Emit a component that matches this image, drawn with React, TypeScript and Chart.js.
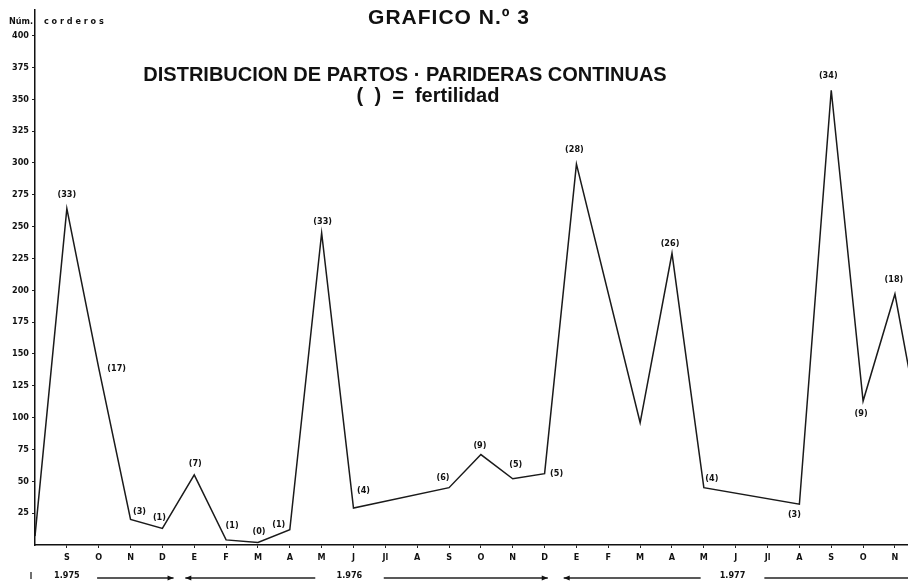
import React, { useEffect, useRef } from 'react';
import { Chart, registerables } from 'chart.js';

Chart.register(...registerables);

// Months from Aug 1975 to Dec 1977
const monthLabels = ['A', 'S', 'O', 'N', 'D', 'E', 'F', 'M', 'A', 'M', 'J', 'Jl', 'A', 'S', 'O', 'N', 'D', 'E', 'F', 'M', 'A', 'M', 'J', 'Jl', 'A', 'S', 'O', 'N', 'D'];
// Núm. corderos (lambs born) per month; null = no vertex drawn (line spans across)
const corderos: (number | null)[] = [7, 264, 139, 20, 13, 55, 4, 2, 12, 245, 29, null, null, 45, 71, 52, 56, 299, null, 96, 229, 45, null, null, 32, 357, 113, 197, 62];
// Fertility annotations "( ) = fertilidad"
const fertilidad: (string | null)[] = [null, '(33)', '(17)', '(3)', '(1)', '(7)', '(1)', '(0)', '(1)', '(33)', '(4)', null, null, '(6)', '(9)', '(5)', '(5)', '(28)', null, null, '(26)', '(4)', null, null, '(3)', '(34)', '(9)', '(18)', null];
const yTickValues = [25, 50, 75, 100, 125, 150, 175, 200, 225, 250, 275, 300, 325, 350, 375, 400];
const xTickIndexes = [1, 2, 3, 4, 5, 6, 7, 8, 9, 10, 11, 12, 13, 14, 15, 16, 17, 18, 19, 20, 21, 22, 23, 24, 25, 26, 27];
const yearLabels = ['1.975', '1.976', '1.977'];

// styling: label offsets (px) from each vertex
const labelOffsets: [number, number][] = [
  [0, 0], [0, -14], [18, 1], [9, -8], [-3, -11], [1, -11], [6, -14], [1, -11], [-11, -5], [1, -11],
  [10, -17], [0, 0], [0, 0], [-6, -10], [-1, -9], [3, -14], [12, 0], [-2, -14], [0, 0], [0, 0],
  [-2, -10], [8, -9], [0, 0], [0, 0], [-5, 10], [-3, -15], [-2, 13], [-1, -14], [0, 0],
];

const SMALL_FONT = 'bold 9px "DejaVu Sans Condensed", "DejaVu Sans", sans-serif';

const overlayPlugin = {
  id: 'overlay',
  afterDraw(chart: any) {
    const ctx = chart.ctx as CanvasRenderingContext2D;
    const xs = chart.scales.x;
    const ys = chart.scales.y;
    ctx.save();
    // fertility labels
    ctx.font = SMALL_FONT;
    ctx.fillStyle = '#111';
    ctx.textAlign = 'center';
    ctx.textBaseline = 'middle';
    fertilidad.forEach((t, i) => {
      const v = corderos[i];
      if (!t || v === null) return;
      const [dx, dy] = labelOffsets[i];
      ctx.fillText(t, xs.getPixelForValue(i) + dx, ys.getPixelForValue(v) + dy);
    });

    // axis title
    ctx.textAlign = 'left';
    ctx.fillText('Núm.', 9, 22);
    ctx.fillText('c o r d e r o s', 44, 22);

    // titles
    ctx.fillStyle = '#111';
    ctx.textAlign = 'center';
    ctx.font = 'bold 21px "Liberation Sans", Arial, sans-serif';
    (ctx as any).letterSpacing = '1px';
    ctx.fillText('GRAFICO N.º 3', 449, 18);
    (ctx as any).letterSpacing = '0px';
    ctx.font = 'bold 20px "Liberation Sans", Arial, sans-serif';
    ctx.fillText('DISTRIBUCION DE PARTOS · PARIDERAS CONTINUAS', 405, 75);
    ctx.fillText('(  )  =  fertilidad', 428, 96);

    // year row with arrows
    const yRow = 578;
    const px = (v: number) => xs.getPixelForValue(v);
    ctx.font = SMALL_FONT;
    ctx.textAlign = 'center';
    ctx.fillText(yearLabels[0], px(1), yRow - 2);
    ctx.fillText(yearLabels[1], px(9.87), yRow - 2);
    ctx.fillText(yearLabels[2], px(21.9), yRow - 2);
    ctx.strokeStyle = '#222';
    ctx.lineWidth = 1.3;
    const seg = (a: number, b: number) => {
      ctx.beginPath();
      ctx.moveTo(a, yRow);
      ctx.lineTo(b, yRow);
      ctx.stroke();
    };
    const arrowR = (x: number) => {
      ctx.beginPath();
      ctx.moveTo(x, yRow);
      ctx.lineTo(x - 6, yRow - 2.5);
      ctx.lineTo(x - 6, yRow + 2.5);
      ctx.closePath();
      ctx.fillStyle = '#111';
      ctx.fill();
    };
    const arrowL = (x: number) => {
      ctx.beginPath();
      ctx.moveTo(x, yRow);
      ctx.lineTo(x + 6, yRow - 2.5);
      ctx.lineTo(x + 6, yRow + 2.5);
      ctx.closePath();
      ctx.fillStyle = '#111';
      ctx.fill();
    };
    // small start mark
    ctx.beginPath();
    ctx.moveTo(31, yRow - 6);
    ctx.lineTo(31, yRow + 1);
    ctx.stroke();
    seg(px(1.95), px(4.35));
    arrowR(px(4.35));
    seg(px(4.72), px(8.8));
    arrowL(px(4.72));
    seg(px(10.95), px(16.1));
    arrowR(px(16.1));
    seg(px(16.6), px(20.9));
    arrowL(px(16.6));
    seg(px(22.9), 908);
    ctx.restore();
  },
};

export default function App() {
  const canvasRef = useRef<HTMLCanvasElement | null>(null);

  useEffect(() => {
    if (!canvasRef.current) return;
    const chart = new Chart(canvasRef.current, {
      type: 'line',
      data: {
        datasets: [
          {
            data: corderos.map((v, i) => ({ x: i, y: v })),
            borderColor: '#1a1a1a',
            borderWidth: 1.5,
            pointRadius: 0,
            tension: 0,
            spanGaps: true,
            fill: false,
          },
        ],
      },
      options: {
        responsive: false,
        animation: false,
        layout: { padding: { top: 10, left: 0, right: 0, bottom: 0 } },
        plugins: {
          legend: { display: false },
          tooltip: { enabled: false },
          title: { display: false },
        },
        scales: {
          x: {
            type: 'linear',
            min: 0,
            max: 27.41,
            afterBuildTicks: (s: any) => {
              s.ticks = xTickIndexes.map((v) => ({ value: v }));
            },
            afterFit: (s: any) => {
              s.height = 37;
            },
            ticks: {
              autoSkip: false,
              maxRotation: 0,
              padding: 4,
              color: '#111',
              font: { family: '"DejaVu Sans Condensed", "DejaVu Sans", sans-serif', size: 9, weight: 'bold' },
              callback: (v: any) => monthLabels[v as number] ?? '',
            },
            grid: { drawOnChartArea: false, drawTicks: true, tickLength: 3, color: '#222' },
            border: { display: true, color: '#111', width: 1.5 },
          },
          y: {
            min: 0,
            max: 420,
            afterBuildTicks: (s: any) => {
              s.ticks = yTickValues.map((v) => ({ value: v }));
            },
            afterFit: (s: any) => {
              s.width = 35;
            },
            ticks: {
              padding: 3,
              color: '#111',
              font: { family: '"DejaVu Sans Condensed", "DejaVu Sans", sans-serif', size: 9, weight: 'bold' },
            },
            grid: { drawOnChartArea: false, drawTicks: true, tickLength: 3, color: '#222' },
            border: { display: true, color: '#111', width: 1.5 },
          },
        },
      },
      plugins: [overlayPlugin],
    });
    return () => chart.destroy();
  }, []);

  return (
    <div style={{ position: 'absolute', left: 0, top: 0, width: 908, height: 582, background: '#fff' }}>
      <canvas ref={canvasRef} width={908} height={582} style={{ display: 'block' }} />
    </div>
  );
}
